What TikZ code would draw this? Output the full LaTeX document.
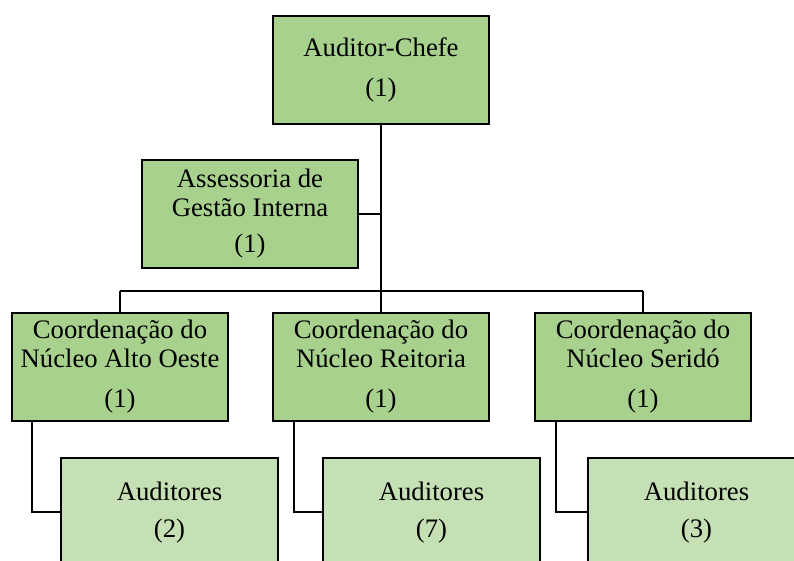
\documentclass[tikz,border=0pt]{standalone}
\usepackage{fontspec}
\setmainfont{Liberation Serif}
\definecolor{darkgreen}{HTML}{A9D18E}
\definecolor{lightgreen}{HTML}{C5E0B4}
\begin{document}
\begin{tikzpicture}[x=1pt,y=1pt,
  box/.style={draw=black, line width=2pt, minimum width=216pt, minimum height=108pt,
    align=center, inner sep=0pt, font=\fontsize{26.7}{29}\selectfont},
  mainbox/.style={box, fill=darkgreen},
  audbox/.style={box, fill=lightgreen, minimum width=217pt, minimum height=109pt},
  conn/.style={draw=black, line width=2pt}]
\useasboundingbox (0,0) rectangle (794,561);
\clip (0,0) rectangle (794,561);
\node[mainbox] (chefe) at (381,491) {Auditor-Chefe\\[11pt](1)};
\node[mainbox] (asg) at (250,347) {Assessoria de\\Gestão Interna\\[7pt](1)};
\node[mainbox] (cao) at (120,194) {Coordenação do\\Núcleo Alto Oeste\\[11pt](1)};
\node[mainbox] (cre) at (381,194) {Coordenação do\\Núcleo Reitoria\\[11pt](1)};
\node[mainbox] (cse) at (643,194) {Coordenação do\\Núcleo Seridó\\[11pt](1)};
\node[audbox] (aao) at (169.5,48.5) {Auditores\\[8pt](2)};
\node[audbox] (are) at (431.5,48.5) {Auditores\\[8pt](7)};
\node[audbox] (ase) at (696.5,48.5) {Auditores\\[8pt](3)};
\coordinate (busL) at (120,270);
\coordinate (busM) at (381,270);
\coordinate (busR) at (643,270);
\draw[conn] (chefe.south) -- (busM);
\draw[conn] (busL) -- (busR);
\draw[conn] (asg.east) -- (asg.east -| chefe.south);
\draw[conn] (cao.north) -- (busL);
\draw[conn] (cre.north) -- (busM);
\draw[conn] (cse.north) -- (busR);
\draw[conn] ([xshift=21pt]cao.south west) |- (aao.west);
\draw[conn] ([xshift=22pt]cre.south west) |- (are.west);
\draw[conn] ([xshift=22pt]cse.south west) |- (ase.west);
\end{tikzpicture}
\end{document}
